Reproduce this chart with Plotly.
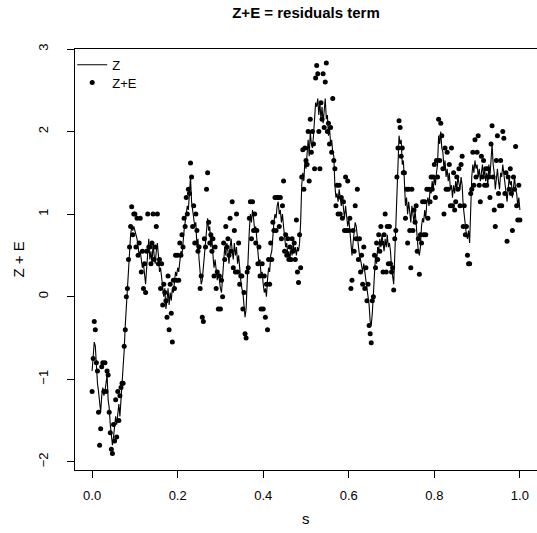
import numpy as np
import plotly.graph_objects as go

# Spatial locations s on [0, 1]
s = np.linspace(0.0, 1.0, 401)

# Latent process Z(s)
z = [
    -0.9, -0.75, -0.55, -0.6, -0.85, -1.05, -1.15, -1.25, -1.4, -1.2, -1.1, -1.2, -1.15, -1.05, -0.95, -1.25, -1.35, -1.55, -1.65, -1.8,
    -1.7, -1.6, -1.45, -1.55, -1.4, -1.3, -1.45, -1.25, -1.1, -0.95, -0.65, -0.35, -0.1, 0.15, 0.35, 0.55, 0.75, 0.85, 0.8, 0.85,
    0.8, 0.75, 0.7, 0.6, 0.5, 0.55, 0.45, 0.35, 0.4, 0.25, 0.15, 0.35, 0.6, 0.7, 0.45, 0.55, 0.4, 0.65, 0.5, 0.4,
    0.55, 0.65, 0.5, 0.3, 0.35, 0.2, 0.05, 0.0, 0.1, -0.15, -0.05, 0.1, -0.1, 0.05, -0.05, 0.1, 0.05, 0.2, 0.3, 0.25,
    0.35, 0.3, 0.45, 0.55, 0.5, 0.7, 0.8, 0.9, 1.0, 1.1, 1.05, 1.2, 1.45, 1.15, 1.0, 0.95, 0.85, 0.9, 0.6, 0.7,
    0.45, 0.3, 0.15, 0.2, 0.35, 0.5, 0.7, 0.85, 0.95, 0.8, 0.85, 0.6, 0.7, 0.5, 0.35, 0.45, 0.3, 0.2, 0.3, 0.15,
    0.1, 0.05, 0.2, 0.45, 0.6, 0.5, 0.65, 0.55, 0.4, 0.6, 0.7, 0.55, 0.45, 0.65, 0.5, 0.6, 0.4, 0.5, 0.3, 0.2,
    0.1, 0.05, -0.1, -0.25, -0.15, 0.1, 0.5, 0.8, 1.0, 0.9, 1.05, 0.95, 0.8, 0.85, 0.65, 0.55, 0.4, 0.45, 0.25, 0.3,
    0.15, 0.05, 0.1, 0.0, 0.2, 0.35, 0.3, 0.5, 0.55, 0.75, 0.9, 1.0, 0.95, 1.1, 1.15, 1.0, 1.05, 0.9, 1.0, 0.85,
    0.75, 0.6, 0.65, 0.5, 0.55, 0.45, 0.6, 0.5, 0.65, 0.55, 0.6, 0.5, 0.6, 0.55, 0.65, 0.9, 1.35, 1.5, 1.4, 1.65,
    1.55, 1.75, 1.9, 1.7, 2.0, 1.85, 1.8, 1.95, 2.1, 2.35, 2.3, 2.4, 2.2, 2.35, 2.15, 2.3, 2.1, 2.25, 2.4, 2.15,
    2.2, 1.95, 2.05, 1.85, 1.9, 1.75, 1.7, 1.35, 1.2, 1.25, 1.15, 1.3, 1.2, 1.1, 1.2, 1.05, 0.95, 1.1, 1.0, 0.85,
    0.95, 0.8, 0.7, 0.5, 0.65, 0.75, 0.9, 0.85, 0.7, 0.6, 0.5, 0.45, 0.35, 0.3, 0.4, 0.3, 0.25, 0.15, 0.0, -0.1,
    -0.3, -0.35, -0.2, 0.1, 0.3, 0.5, 0.4, 0.6, 0.55, 0.7, 0.6, 0.75, 0.65, 0.55, 0.7, 0.6, 0.75, 0.6, 0.65, 0.55,
    0.35, 0.2, 0.15, 0.5, 0.9, 1.3, 1.7, 1.95, 1.85, 1.9, 1.6, 1.65, 1.4, 1.1, 1.2, 1.0, 1.15, 1.05, 0.9, 1.1,
    1.0, 0.9, 1.05, 0.85, 0.7, 0.55, 0.5, 0.6, 0.85, 0.95, 0.9, 1.05, 0.95, 1.15, 1.2, 1.1, 1.3, 1.25, 1.4, 1.3,
    1.45, 1.35, 1.5, 1.6, 1.95, 1.85, 2.0, 1.8, 1.75, 1.55, 1.65, 1.45, 1.55, 1.4, 1.5, 1.3, 1.35, 1.2, 1.35, 1.25,
    1.4, 1.3, 1.45, 1.35, 1.3, 1.45, 1.35, 1.1, 0.95, 0.9, 0.75, 0.7, 0.8, 0.65, 1.1, 1.45, 1.6, 1.5, 1.65, 1.55,
    1.6, 1.45, 1.55, 1.4, 1.5, 1.6, 1.45, 1.55, 1.4, 1.5, 1.35, 1.6, 1.45, 1.7, 1.85, 1.6, 1.5, 1.3, 1.45, 1.55,
    1.4, 1.3, 1.5, 1.45, 1.6, 1.5, 1.4, 1.3, 1.15, 1.3, 1.45, 1.35, 1.4, 1.2, 1.3, 1.45, 1.3, 1.25, 1.1, 1.2, 1.05,
]

# Observations Z(s) + E(s)
z_plus_e = [
    -1.15, -0.75, -0.3, -0.4, -0.8, -0.9, -1.4, -1.8, -1.6, -0.85, -0.8, -1.15, -0.8, -1.15, -0.9, -0.95, -1.4, -1.65, -1.85, -1.9,
    -1.55, -1.75, -1.25, -1.7, -1.15, -1.5, -1.2, -1.1, -1.05, -1.05, -0.6, -0.4, 0.0, 0.1, 0.45, 0.6, 0.85, 1.09, 0.75, 1.0,
    1.0, 0.6, 0.95, 0.5, 0.65, 0.95, 0.3, 0.55, 0.1, 0.4, 0.05, 0.55, 1.0, 0.6, 0.6, 0.4, 0.65, 1.0, 0.45, 0.6,
    0.85, 1.0, 0.4, 0.45, 0.1, 0.4, -0.1, 0.15, 0.05, -0.05, -0.25, 0.25, -0.4, 0.15, -0.2, -0.55, 0.2, 0.1, 0.5, 0.2,
    0.5, 0.2, 0.65, 0.5, 0.75, 0.6, 0.95, 0.85, 1.2, 1.0, 1.3, 1.25, 1.62, 1.45, 0.85, 1.1, 0.65, 1.0, 0.8, 0.55,
    0.6, 0.1, 0.25, -0.25, -0.3, 0.7, 0.6, 1.3, 1.5, 0.9, 0.65, 0.75, 0.55, 0.7, 0.25, 0.6, 0.1, 0.3, -0.15, 0.25,
    -0.15, 0.2, 0.0, 0.65, 0.45, 0.85, 0.6, 0.7, 0.5, 0.95, 0.55, 1.15, 0.35, 0.8, 0.3, 1.0, 0.3, 0.65, 0.15, 0.25,
    0.25, -0.15, 0.05, -0.45, -0.5, 0.3, 0.35, 0.95, 1.15, 0.7, 1.15, 0.8, 1.0, 0.65, 0.8, 0.4, 0.6, 0.25, -0.15, 0.4,
    -0.15, 0.25, -0.25, 0.15, -0.4, 0.45, 0.15, 0.65, 0.45, 0.9, 0.8, 1.2, 0.8, 1.2, 1.2, 0.85, 1.2, 0.7, 1.1, 1.4,
    0.55, 0.75, 0.5, 0.7, 0.45, 0.6, 0.45, 0.7, 0.55, 0.65, 0.45, 0.93, 0.3, 0.17, 0.75, 0.35, 1.45, 1.78, 1.3, 1.8,
    1.65, 1.6, 2.0, 1.4, 2.15, 1.75, 2.0, 1.85, 1.55, 2.65, 2.8, 2.7, 2.0, 1.55, 2.35, 2.15, 2.7, 2.05, 2.6, 2.83,
    2.0, 2.1, 1.85, 2.05, 1.75, 2.4, 1.65, 1.55, 1.1, 1.35, 1.0, 1.35, 1.0, 1.2, 0.95, 1.15, 0.8, 1.45, 0.8, 1.4,
    0.8, 0.95, 0.1, 0.2, 0.8, 0.55, 1.1, 0.7, 1.3, 0.45, 0.7, 0.3, 0.5, 0.15, 0.6, 0.1, 0.35, -0.05, 0.15, -0.35,
    -0.45, -0.56, -0.05, 0.0, 0.5, 0.35, 0.65, 0.45, 0.75, 0.55, 0.85, 0.65, 0.3, 0.75, 1.0, 0.3, 0.85, 0.4, 0.85, 0.4,
    0.3, 0.35, 0.08, 0.7, 0.8, 1.45, 1.8, 2.13, 2.05, 1.7, 1.8, 1.5, 1.5, 0.95, 1.3, 0.65, 1.3, 0.8, 0.35, 1.3,
    0.8, 1.05, 0.9, 1.1, 0.55, 0.7, 0.27, 0.75, 0.65, 1.15, 0.75, 1.15, 0.75, 1.3, 0.95, 1.3, 1.15, 1.45, 1.3, 1.45,
    1.6, 1.2, 1.65, 1.45, 2.15, 1.65, 2.1, 1.95, 1.55, 1.0, 1.8, 1.3, 1.75, 1.3, 1.6, 1.1, 1.8, 1.1, 1.5, 1.05,
    1.15, 1.45, 1.3, 1.55, 1.1, 1.6, 1.7, 0.85, 1.1, 0.75, 0.85, 0.5, 0.4, 0.4, 1.25, 1.3, 1.75, 1.35, 1.9, 1.45,
    1.75, 1.95, 1.35, 1.15, 1.7, 1.45, 1.65, 1.35, 1.55, 1.35, 1.55, 1.45, 1.2, 1.85, 2.07, 1.45, 1.05, 0.85, 1.65, 1.95,
    1.25, 1.1, 1.65, 1.1, 2.0, 1.92, 1.25, 1.5, 0.67, 1.45, 1.3, 1.55, 1.25, 0.8, 1.45, 1.3, 1.82, 1.1, 0.93, 1.35, 0.93,
]

x_ticks = [0.0, 0.2, 0.4, 0.6, 0.8, 1.0]
x_tick_labels = ["0.0", "0.2", "0.4", "0.6", "0.8", "1.0"]
y_ticks = [-2, -1, 0, 1, 2, 3]
y_tick_labels = ["\u22122", "\u22121", "0", "1", "2", "3"]

FONT = "Liberation Sans, Arial, Helvetica, sans-serif"

fig = go.Figure()
fig.add_trace(go.Scatter(
    x=s, y=z, mode="lines", name="Z", legend="legend",
    line=dict(color="black", width=1.1),
))
fig.add_trace(go.Scatter(
    x=s, y=z_plus_e, mode="markers", name="Z+E", legend="legend2",
    marker=dict(color="black", size=5, line=dict(width=0)),
))

axis_common = dict(
    showgrid=False, zeroline=False,
    showline=True, linecolor="black", linewidth=1, mirror=True,
    ticks="outside", ticklen=7, tickwidth=1, tickcolor="black",
    tickfont=dict(family=FONT, size=13, color="black"),
)

legend_common = dict(
    xanchor="left", yanchor="top",
    bgcolor="rgba(0,0,0,0)", borderwidth=0,
    font=dict(family=FONT, size=13, color="black"),
)

fig.update_layout(
    width=537, height=533,
    margin=dict(l=75, r=0, t=49, b=63),
    paper_bgcolor="white", plot_bgcolor="white",
    font=dict(family=FONT, color="black"),
    title=dict(
        text="<b>Z+E = residuals term</b>",
        x=0.5, xref="paper", xanchor="center",
        y=1 - 13 / 533, yref="container", yanchor="middle",
        font=dict(family=FONT, size=15, color="black"),
    ),
    xaxis=dict(
        range=[-0.04, 1.04], tickvals=x_ticks, ticktext=x_tick_labels,
        ticklabelstandoff=6, **axis_common,
    ),
    yaxis=dict(
        range=[-2.1, 3.0], tickvals=y_ticks, ticktext=y_tick_labels,
        tickangle=-90, ticklabelstandoff=14, **axis_common,
    ),
    legend=dict(x=-0.006, y=0.998, **legend_common),
    legend2=dict(x=-0.006, y=0.956, **legend_common),
    showlegend=True,
    annotations=[
        dict(text="s", xref="paper", yref="paper", x=0.5, y=0,
             yanchor="middle", yshift=-48, showarrow=False,
             font=dict(family=FONT, size=15, color="black")),
        dict(text="Z + E", xref="paper", yref="paper", x=0, y=0.5,
             xanchor="center", xshift=-57, textangle=-90, showarrow=False,
             font=dict(family=FONT, size=15, color="black")),
    ],
)

fig.write_html("out.html")
